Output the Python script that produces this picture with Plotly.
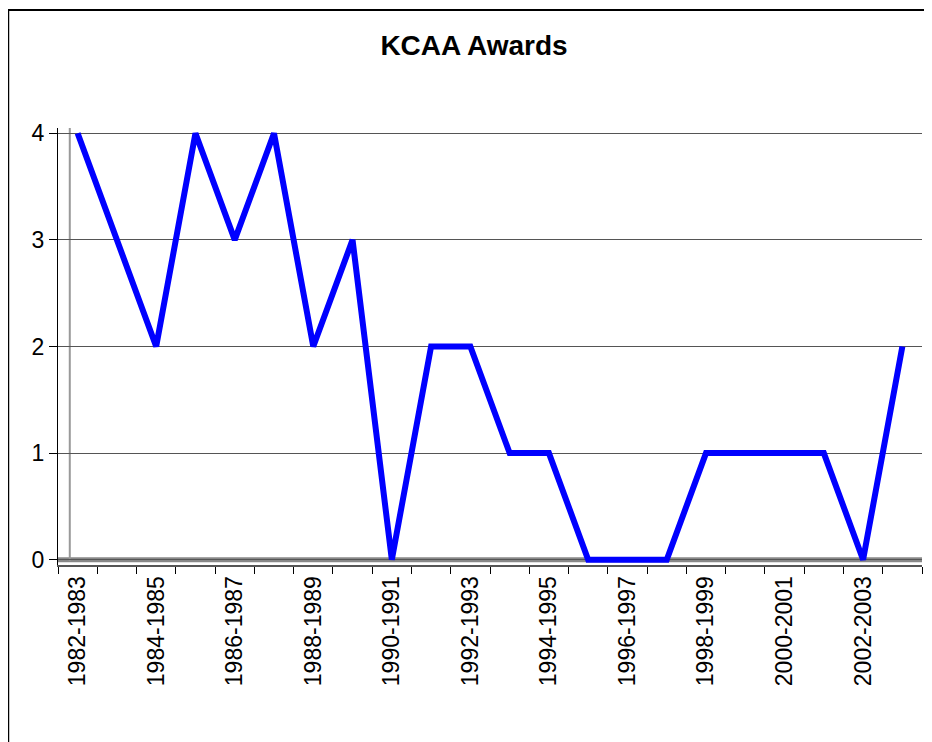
import plotly.graph_objects as go

# KCAA awards per season
seasons = ["1982-1983", "1983-1984", "1984-1985", "1985-1986", "1986-1987", "1987-1988",
           "1988-1989", "1989-1990", "1990-1991", "1991-1992", "1992-1993", "1993-1994",
           "1994-1995", "1995-1996", "1996-1997", "1997-1998", "1998-1999", "1999-2000",
           "2000-2001", "2001-2002", "2002-2003", "2003-2004"]
awards = [4, 3, 2, 4, 3, 4, 2, 3, 0, 2, 2, 1, 1, 0, 0, 0, 1, 1, 1, 1, 0, 2]

idx = list(range(len(seasons)))

fig = go.Figure()
fig.add_scatter(x=idx, y=awards, mode="lines", line=dict(color="#0000FF", width=6),
                showlegend=False)

fig.update_layout(
    width=932, height=742,
    paper_bgcolor="white", plot_bgcolor="white",
    margin=dict(l=50, r=18, t=120, b=185),
    title=dict(text="<b>KCAA Awards</b>", x=0.5, xanchor="center", y=0.95, yanchor="middle",
               font=dict(family="Arial, Liberation Sans", size=28, color="black")),
    font=dict(family="Arial, Liberation Sans", color="black"),
    xaxis=dict(range=[-0.5, len(seasons) - 0.5], tickmode="array",
               tickvals=idx[::2], ticktext=seasons[::2], tickangle=-90,
               tickfont=dict(size=23), ticks="", ticklen=8, showgrid=False, zeroline=False,
               showline=True, linecolor="#555555", linewidth=2,
               minor=dict(tickvals=[i + 0.5 for i in idx[:-1]] + [-0.5, len(seasons) - 0.5],
                          ticks="outside", ticklen=7, tickcolor="black", showgrid=False)),
    yaxis=dict(range=[-0.05, 4.05], tickvals=[0, 1, 2, 3, 4], tickfont=dict(size=23),
               ticks="outside", ticklen=8, tickcolor="black",
               showgrid=True, gridcolor="#555555", gridwidth=1, zeroline=False,
               showline=True, linecolor="black", linewidth=1),
)

# outer chart frame
fig.add_shape(type="rect", xref="paper", yref="paper", x0=-0.0576, x1=1.05, y0=-0.5, y1=1.27,
              line=dict(color="black", width=2), fillcolor="rgba(0,0,0,0)", layer="below")
# floor of the plot
fig.add_shape(type="line", xref="paper", yref="y", x0=0, x1=1, y0=0, y1=0,
              line=dict(color="#888888", width=5), layer="below")
# back wall edge
fig.add_shape(type="line", xref="x", yref="paper", x0=-0.2, x1=-0.2, y0=0.01, y1=1,
              line=dict(color="#999999", width=2), layer="below")

fig.write_html("out.html")
